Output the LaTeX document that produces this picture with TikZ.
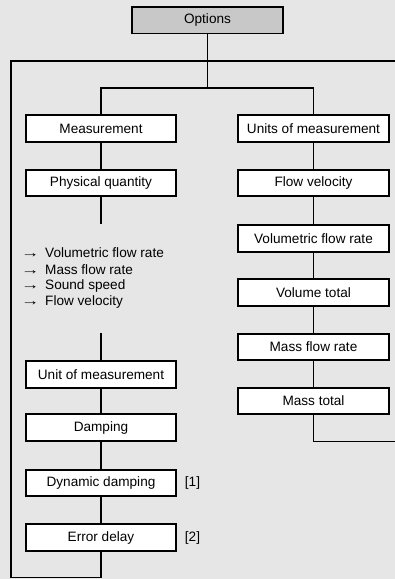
\documentclass[tikz,border=0pt]{standalone}
\usepackage{graphicx}
\usepackage{fontspec}
\setmainfont{Liberation Sans}
\definecolor{bg}{HTML}{E6E6E6}
\definecolor{optfill}{HTML}{C8C8C8}
\newcommand{\listarrow}{\makebox[24pt][l]{\scalebox{1.35}[1.0]{→}}}
\begin{document}
\begin{tikzpicture}[x=1pt,y=-1pt,
  font=\fontsize{13.6}{16}\selectfont,
  conn/.style={line width=1.7pt},
  box/.style={draw, line width=1.7pt, fill=white, minimum width=150pt, minimum height=26.5pt, inner sep=0pt},
  listitem/.style={anchor=west, inner sep=0pt},
  note/.style={anchor=center, inner sep=0pt}]
\fill[bg] (0,0) rectangle (395,579);
\useasboundingbox (0,0) rectangle (395,579);

% boxes
\node[box, fill=optfill, minimum width=151pt] (opt) at (207.5,20.3) {Options};
\node[box] (meas) at (101,128.5) {Measurement};
\node[box, minimum width=151pt] (units) at (313.5,128.5) {Units of measurement};
\node[box] (phys) at (101,183) {Physical quantity};
\node[box, minimum width=151pt] (flowv) at (313.5,183) {Flow velocity};
\node[box, minimum width=151pt] (vfr) at (313.5,238.5) {Volumetric flow rate};
\node[box, minimum width=151pt] (vt) at (313.5,292.5) {Volume total};
\node[box, minimum width=151pt] (mfr) at (313.5,347) {Mass flow rate};
\node[box, minimum width=151pt] (mt) at (313.5,401) {Mass total};
\node[box] (unit) at (101,374.5) {Unit of measurement};
\node[box] (damp) at (101,427.5) {Damping};
\node[box] (dyn) at (101,483) {Dynamic damping};
\node[box] (err) at (101,537.5) {Error delay};

% notes
\node[note] (n1) at (192.5,483) {[1]};
\node[note] (n2) at (192.5,538) {[2]};

% list
\node[listitem] (l1) at (21,253) {\listarrow Volumetric flow rate};
\node[listitem] (l2) at (21,269.5) {\listarrow Mass flow rate};
\node[listitem] (l3) at (21,286) {\listarrow Sound speed};
\node[listitem] (l4) at (21,302) {\listarrow Flow velocity};

% coordinates
\coordinate (lt) at (11,61);
\coordinate (rt) at (396,61);
\coordinate (lb) at (11,577.5);
\coordinate (bb) at (101,577.5);
\coordinate (j1) at (207.5,88);
\coordinate (pqend) at (101,224);
\coordinate (umstart) at (101,333);
\coordinate (mtend) at (313.5,441.5);
\coordinate (rend) at (396,441.5);

% connectors
\draw[conn] (opt.south) -- (j1);
\draw[conn] (rt) -- (lt) -- (lb) -- (bb) -- (err.south);
\draw[conn] (meas.north) |- (j1) -| (units.north);
\draw[conn] (meas) -- (phys);
\draw[conn] (phys.south) -- (pqend);
\draw[conn] (umstart) -- (unit.north);
\draw[conn] (unit) -- (damp);
\draw[conn] (damp) -- (dyn);
\draw[conn] (dyn) -- (err);
\draw[conn] (units) -- (flowv);
\draw[conn] (flowv) -- (vfr);
\draw[conn] (vfr) -- (vt);
\draw[conn] (vt) -- (mfr);
\draw[conn] (mfr) -- (mt);
\draw[conn] (mt.south) -- (mtend) -- (rend);
\end{tikzpicture}
\end{document}
